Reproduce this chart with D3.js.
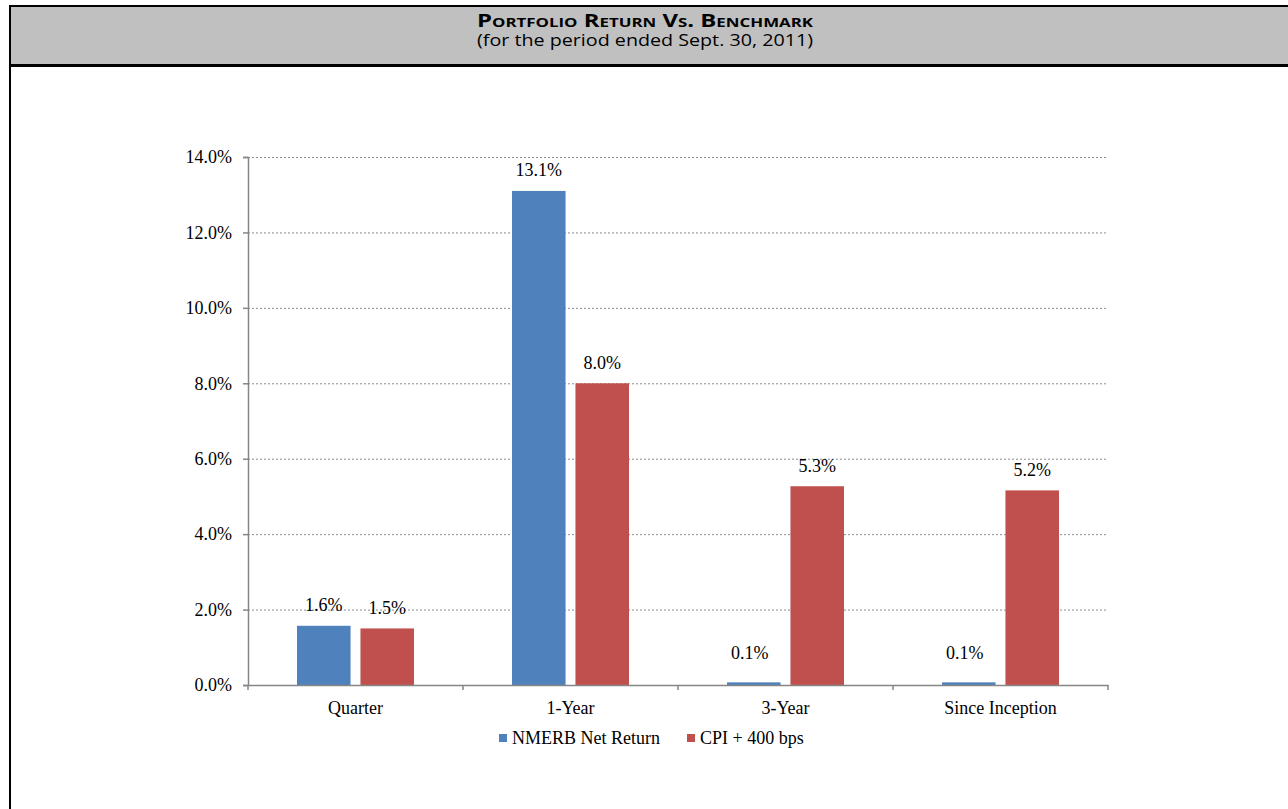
<!DOCTYPE html>
<html>
<head>
<meta charset="utf-8">
<title>Portfolio Return vs. Benchmark</title>
<script src="https://cdn.jsdelivr.net/npm/d3@7"></script>
<style>
body { margin: 0; background: #ffffff; }
svg { display: block; }
.serif { font-family: "Liberation Serif", "Times New Roman", serif; fill: #000; }
.title { font-family: "Open Sans", Lato, sans-serif; fill: #000; }
</style>
</head>
<body>
<div id="chart"></div>
<script>
// values (percent)
const categories = ["Quarter", "1-Year", "3-Year", "Since Inception"];
const seriesNames = ["NMERB Net Return", "CPI + 400 bps"];
const netReturn = [1.57, 13.1, 0.07, 0.07];
const benchmark = [1.5, 8.0, 5.27, 5.16];
const yTicks = [0, 2, 4, 6, 8, 10, 12, 14];
const colors = ["#4F81BD", "#C0504D"];

const W = 1288, H = 809;
const FS = 18;
const svg = d3.select("#chart").append("svg").attr("width", W).attr("height", H);

// frame + header
svg.append("rect").attr("x", 10).attr("y", 6).attr("width", W - 10).attr("height", 59).attr("fill", "#C0C0C0");
svg.append("line").attr("x1", 9).attr("x2", W).attr("y1", 6).attr("y2", 6).attr("stroke", "#000").attr("stroke-width", 2);
svg.append("line").attr("x1", 9).attr("x2", W).attr("y1", 65.5).attr("y2", 65.5).attr("stroke", "#000").attr("stroke-width", 3);
svg.append("line").attr("x1", 10).attr("x2", 10).attr("y1", 5).attr("y2", H).attr("stroke", "#000").attr("stroke-width", 2);

svg.append("text").attr("class", "title").attr("x", 645).attr("y", 27)
    .attr("text-anchor", "middle").attr("font-weight", "bold").attr("font-size", 17)
    .attr("textLength", 336).attr("lengthAdjust", "spacingAndGlyphs")
    .style("font-variant", "small-caps")
    .text("Portfolio Return Vs. Benchmark");
svg.append("text").attr("class", "title").attr("x", 645).attr("y", 46)
    .attr("text-anchor", "middle").attr("font-size", 17)
    .attr("textLength", 336).attr("lengthAdjust", "spacingAndGlyphs")
    .text("(for the period ended Sept. 30, 2011)");

// plot area
const plotLeft = 248, plotRight = 1108, plotTop = 157, plotBottom = 685;
const x0 = d3.scaleBand().domain(categories).range([plotLeft, plotRight]);
const x1 = d3.scaleBand().domain(seriesNames).range([49, x0.bandwidth() - 49]).paddingInner(10 / 64);
const y = d3.scaleLinear().domain([0, 14]).range([plotBottom, plotTop]);

// gridlines
svg.append("g").attr("transform", `translate(${plotLeft},0)`)
    .call(d3.axisLeft(y).tickValues(yTicks.filter(d => d > 0)).tickSize(-(plotRight - plotLeft)).tickFormat(""))
    .call(g => g.select(".domain").remove())
    .call(g => g.selectAll("line").attr("stroke", "#8c8c8c").attr("stroke-dasharray", "2,2"));

// bars
const rows = categories.map((c, i) => ({ cat: c, vals: [netReturn[i], benchmark[i]] }));
const groups = svg.append("g").selectAll("g").data(rows).join("g")
    .attr("transform", d => `translate(${x0(d.cat)},0)`);

groups.selectAll("rect").data(d => d.vals.map((v, j) => ({ name: seriesNames[j], v, j })))
    .join("rect")
    .attr("x", d => x1(d.name))
    .attr("width", x1.bandwidth())
    .attr("y", d => y(d.v))
    .attr("height", d => y(0) - y(d.v))
    .attr("fill", d => colors[d.j]);

groups.selectAll("text").data(d => d.vals.map((v, j) => ({ name: seriesNames[j], v, j })))
    .join("text")
    .attr("class", "serif")
    .attr("font-size", FS)
    .attr("text-anchor", "middle")
    .attr("x", d => x1(d.name) + x1.bandwidth() / 2 - (d.v < 1 ? 4 : 0))
    .attr("y", d => Math.min(y(d.v), y(0.3)) - 21)
    .attr("dy", "0.35em")
    .text(d => d.v.toFixed(1) + "%");

// y axis
svg.append("g").attr("transform", `translate(${plotLeft},0)`)
    .call(d3.axisLeft(y).tickValues(yTicks).tickSize(5).tickPadding(11).tickFormat(d => d.toFixed(1) + "%"))
    .call(g => g.selectAll("line, .domain").attr("stroke", "#868686").attr("stroke-width", 1.5))
    .call(g => g.selectAll("text").attr("class", "serif").attr("font-size", FS).attr("fill", "#000"));

// x axis
const xAxis = svg.append("g").attr("transform", `translate(0,${plotBottom})`)
    .call(d3.axisBottom(x0).tickSize(0).tickPadding(16))
    .call(g => g.select(".domain").attr("stroke", "#868686").attr("stroke-width", 1.5))
    .call(g => g.selectAll("text").attr("class", "serif").attr("font-size", FS).attr("fill", "#000"));
xAxis.selectAll(".bound").data(categories.map(c => x0(c)).concat([plotRight])).join("line")
    .attr("class", "bound").attr("x1", d => d).attr("x2", d => d).attr("y1", 0).attr("y2", 5)
    .attr("stroke", "#868686").attr("stroke-width", 1.5);

// legend
const legend = svg.append("g").attr("transform", "translate(499,738)");
let lx = 0;
seriesNames.forEach((name, i) => {
    legend.append("rect").attr("x", lx).attr("y", -4).attr("width", 8).attr("height", 8).attr("fill", colors[i]);
    const t = legend.append("text").attr("class", "serif").attr("font-size", FS)
        .attr("x", lx + 13).attr("dy", "0.35em").text(name);
    lx += 13 + t.node().getComputedTextLength() + 27;
});
</script>
</body>
</html>
